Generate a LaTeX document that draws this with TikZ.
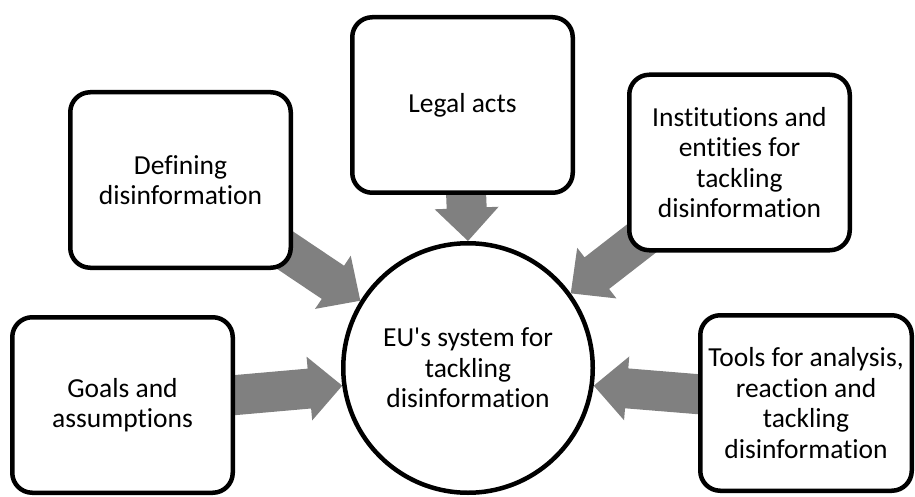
\documentclass[tikz,border=0pt]{standalone}
\usepackage{fontspec}
\newfontfamily\carl{Carlito}[Ligatures={NoCommon}]
\usetikzlibrary{calc}
\definecolor{arrowgray}{RGB}{128,128,128}
\pgfdeclarelayer{bg}
\pgfsetlayers{bg,main}
\newcommand\blockarr[2]{%
  \fill[arrowgray] ($(#1)!20pt!90:(#2)$)
    -- ($($(#2)!33pt!(#1)$)!20pt!90:(#2)$)
    -- ($($(#2)!33pt!(#1)$)!32pt!90:(#2)$)
    -- (#2)
    -- ($($(#2)!33pt!(#1)$)!32pt!-90:(#2)$)
    -- ($($(#2)!33pt!(#1)$)!20pt!-90:(#2)$)
    -- ($(#1)!20pt!-90:(#2)$) -- cycle;}
\begin{document}
\begin{tikzpicture}[x=1pt,y=-1pt,
  box/.style={draw=black, line width=4.5pt, rounded corners=20pt, fill=white,
    minimum width=220.5pt, minimum height=175.5pt, align=center, inner sep=0pt,
    font=\carl\fontsize{27.5}{30.5}\selectfont},
  hub/.style={draw=black, line width=4.5pt, circle, fill=white, minimum size=249.5pt,
    align=center, inner sep=0pt, font=\carl\fontsize{27.5}{30.5}\selectfont}]
\useasboundingbox (0,0) rectangle (915,497);
\node[hub] (circ) at (468,368) {EU's system for\\tackling\\disinformation};
\node[box] (def) at (180.5,180) {Defining\\disinformation};
\node[box] (legal) at (462.5,105) {Legal acts};
\node[box] (inst) at (739.5,162.5) {Institutions and\\entities for\\tackling\\disinformation};
\node[box] (goals) at (122.5,405) {Goals and\\assumptions};
\node[box, minimum width=211.5pt] (tools) at (806,403) {Tools for analysis,\\reaction and\\tackling\\disinformation};
\coordinate (tdef) at (circ.148);
\coordinate (tlegal) at (circ.90);
\coordinate (tinst) at (circ.36);
\coordinate (tgoals) at (circ.188);
\coordinate (ttools) at (circ.-8.5);
\begin{pgfonlayer}{bg}
\blockarr{def.center}{tdef}
\blockarr{legal.center}{tlegal}
\blockarr{inst.center}{tinst}
\blockarr{goals.center}{tgoals}
\blockarr{tools.center}{ttools}
\end{pgfonlayer}
\end{tikzpicture}
\end{document}
